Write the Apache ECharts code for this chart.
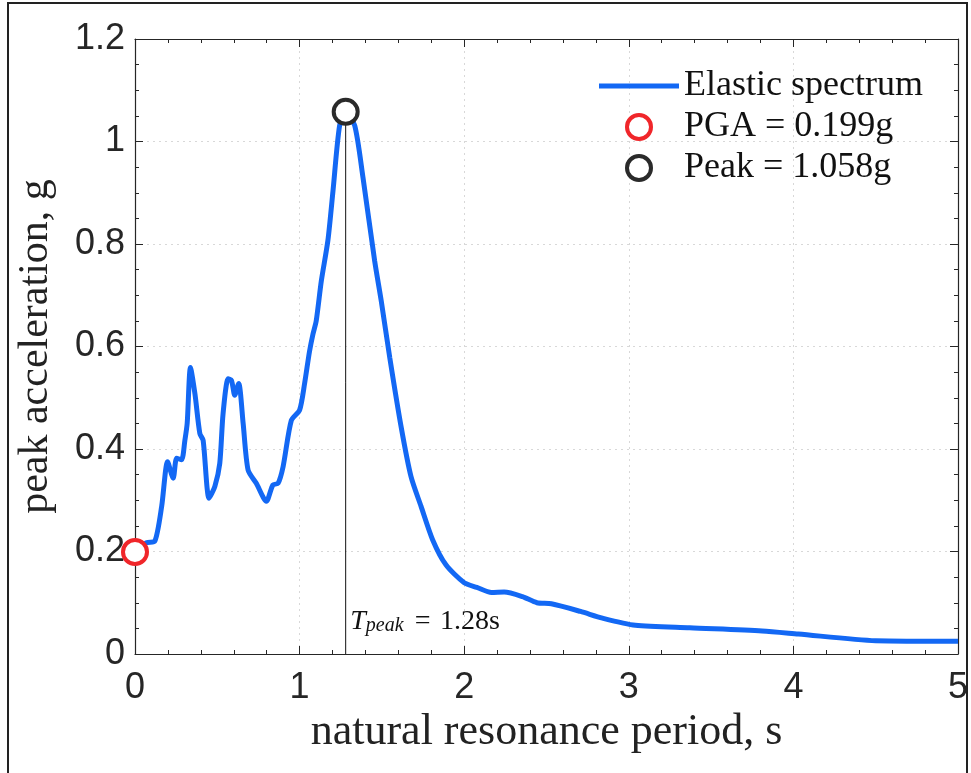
<!DOCTYPE html>
<html>
<head>
<meta charset="UTF-8">
<title>Elastic spectrum</title>
<script type="text/javascript" src="https://cdn.jsdelivr.net/npm/echarts@6/dist/echarts.min.js"></script>
<style>
html, body { margin: 0; padding: 0; background: #fff; }
</style>
</head>
<body>
<div id="main" style="width:971px;height:773px"></div>
<script type="text/javascript">
// natural resonance period (s) and peak acceleration (g)
var periods = [0, 0.07, 0.12, 0.162, 0.198, 0.232, 0.253, 0.283, 0.303, 0.317, 0.337, 0.364, 0.394, 0.414,
    0.45, 0.485, 0.515, 0.535, 0.566, 0.586, 0.606, 0.63, 0.657, 0.687, 0.737, 0.798, 0.838, 0.869, 0.9,
    0.95, 1.0, 1.03, 1.06, 1.081, 1.101, 1.132, 1.172, 1.203, 1.243, 1.28, 1.335, 1.385, 1.456, 1.496,
    1.548, 1.617, 1.677, 1.738, 1.808, 1.889, 2.0, 2.077, 2.166, 2.243, 2.354, 2.442, 2.53, 2.707, 2.84,
    3.04, 3.37, 3.81, 4.03, 4.5, 5.0];
var accel = [0.199, 0.217, 0.22, 0.288, 0.375, 0.343, 0.382, 0.379, 0.417, 0.45, 0.559, 0.508, 0.43, 0.417,
    0.304, 0.327, 0.372, 0.469, 0.537, 0.534, 0.505, 0.528, 0.45, 0.359, 0.333, 0.298, 0.33, 0.333, 0.366,
    0.456, 0.476, 0.527, 0.59, 0.624, 0.65, 0.728, 0.807, 0.904, 1.031, 1.058, 1.031, 0.93, 0.767, 0.689,
    0.578, 0.443, 0.346, 0.288, 0.223, 0.174, 0.139, 0.13, 0.12, 0.121, 0.112, 0.1, 0.098, 0.083, 0.07,
    0.056, 0.051, 0.045, 0.039, 0.026, 0.025];
var pga = [0, 0.199];
var peak = [1.28, 1.058];
var xTicks = ['0', '1', '2', '3', '4', '5'];
var yTicks = ['0', '0.2', '0.4', '0.6', '0.8', '1', '1.2'];

var blue = '#1368f4';
var red = '#f0262a';
var dark = '#2a2a2a';
var axisCol = '#262626';
var serif = '"Liberation Serif", "DejaVu Serif", serif';
var sans = '"Liberation Sans", Arial, sans-serif';

var curve = periods.map(function (t, i) { return [t, accel[i]]; });

var myChart = echarts.init(document.getElementById('main'));

function frameAxis(extra) {
    var base = {
        type: 'value',
        axisLine: { show: true, onZero: false, lineStyle: { color: axisCol, width: 1.2 } },
        axisTick: { show: true, inside: true, length: 8, lineStyle: { color: axisCol } },
        minorTick: { show: true, length: 4, lineStyle: { color: axisCol } },
        splitLine: { show: false },
        axisLabel: { show: false }
    };
    return Object.assign(base, extra);
}

var option = {
    backgroundColor: '#fff',
    animation: false,
    grid: { left: 135, right: 10, top: 39, bottom: 119 },
    graphic: [{
        type: 'rect',
        shape: { x: 8, y: 3, width: 959, height: 790 },
        style: { fill: 'none', stroke: '#222', lineWidth: 2 },
        silent: true
    }],
    legend: {
        orient: 'vertical',
        left: 594,
        top: 62,
        itemWidth: 80,
        itemHeight: 24,
        itemGap: 3,
        symbolKeepAspect: true,
        textStyle: { fontFamily: serif, fontSize: 36, lineHeight: 38, color: '#111' },
        data: [
            { name: 'Elastic spectrum', icon: 'path://M0,0 H80 V5 H0 Z', itemStyle: { color: blue } },
            { name: 'PGA = 0.199g', itemStyle: { color: '#fff', borderColor: red, borderWidth: 4 } },
            { name: 'Peak = 1.058g', itemStyle: { color: '#fff', borderColor: dark, borderWidth: 4 } }
        ]
    },
    xAxis: [
        frameAxis({
            position: 'bottom', min: 0, max: 5, interval: 1,
            minorTick: { show: true, splitNumber: 5, length: 4, lineStyle: { color: axisCol } },
            axisLabel: {
                show: true, margin: 16, color: axisCol, fontFamily: sans, fontSize: 36,
                formatter: function (v) { return xTicks[Math.round(v)]; }
            },
            splitLine: { show: true, lineStyle: { color: '#d8d8d8', type: [2, 4], width: 1 } },
            name: 'natural resonance period, s',
            nameLocation: 'middle',
            nameGap: 33,
            nameTextStyle: { fontFamily: serif, fontSize: 44, color: '#222' }
        }),
        frameAxis({
            position: 'top', min: 0, max: 5, interval: 1,
            minorTick: { show: true, splitNumber: 5, length: 4, lineStyle: { color: axisCol } }
        })
    ],
    yAxis: [
        frameAxis({
            position: 'left', min: 0, max: 1.2, interval: 0.2,
            minorTick: { show: true, splitNumber: 4, length: 4, lineStyle: { color: axisCol } },
            axisLabel: {
                show: true, margin: 10, color: axisCol, fontFamily: sans, fontSize: 36,
                formatter: function (v) { return yTicks[Math.round(v / 0.2)]; }
            },
            splitLine: { show: true, lineStyle: { color: '#d8d8d8', type: [2, 4], width: 1 } },
            name: 'peak acceleration, g',
            nameLocation: 'middle',
            nameGap: 78,
            nameTextStyle: { fontFamily: serif, fontSize: 42, color: '#222' }
        }),
        frameAxis({
            position: 'right', min: 0, max: 1.2, interval: 0.2,
            minorTick: { show: true, splitNumber: 4, length: 4, lineStyle: { color: axisCol } }
        })
    ],
    series: [
        {
            name: 'T peak line',
            type: 'line',
            data: [[peak[0], 0], peak],
            symbol: 'none',
            lineStyle: { color: '#111', width: 1 },
            z: 2,
            markPoint: {
                symbol: 'circle',
                symbolSize: 1,
                itemStyle: { color: 'rgba(0,0,0,0)' },
                data: [{
                    coord: [peak[0], 0],
                    label: {
                        show: true,
                        position: 'right',
                        distance: 4,
                        offset: [0, -34],
                        formatter: '{t|T}{s|peak}{n| \u200a=\u200a 1.28s}',
                        rich: {
                            t: { fontFamily: serif, fontStyle: 'italic', fontSize: 28, color: '#111', lineHeight: 32, verticalAlign: 'bottom' },
                            s: { fontFamily: serif, fontStyle: 'italic', fontSize: 20, color: '#111', lineHeight: 32, verticalAlign: 'bottom', padding: [10, 2, 0, 0] },
                            n: { fontFamily: serif, fontSize: 28, color: '#111', lineHeight: 32, verticalAlign: 'bottom' }
                        }
                    }
                }]
            }
        },
        {
            name: 'Elastic spectrum',
            type: 'line',
            data: curve,
            symbol: 'none',
            smooth: 0.25,
            lineStyle: { color: blue, width: 5 },
            itemStyle: { color: blue },
            z: 3
        },
        {
            name: 'PGA = 0.199g',
            type: 'scatter',
            data: [pga],
            symbol: 'circle',
            symbolSize: 24,
            clip: false,
            itemStyle: { color: '#fff', borderColor: red, borderWidth: 4, opacity: 1 },
            z: 5
        },
        {
            name: 'Peak = 1.058g',
            type: 'scatter',
            data: [peak],
            symbol: 'circle',
            symbolSize: 24,
            clip: false,
            itemStyle: { color: '#fff', borderColor: dark, borderWidth: 4, opacity: 1 },
            z: 5
        }
    ]
};

myChart.setOption(option);
</script>
</body>
</html>
